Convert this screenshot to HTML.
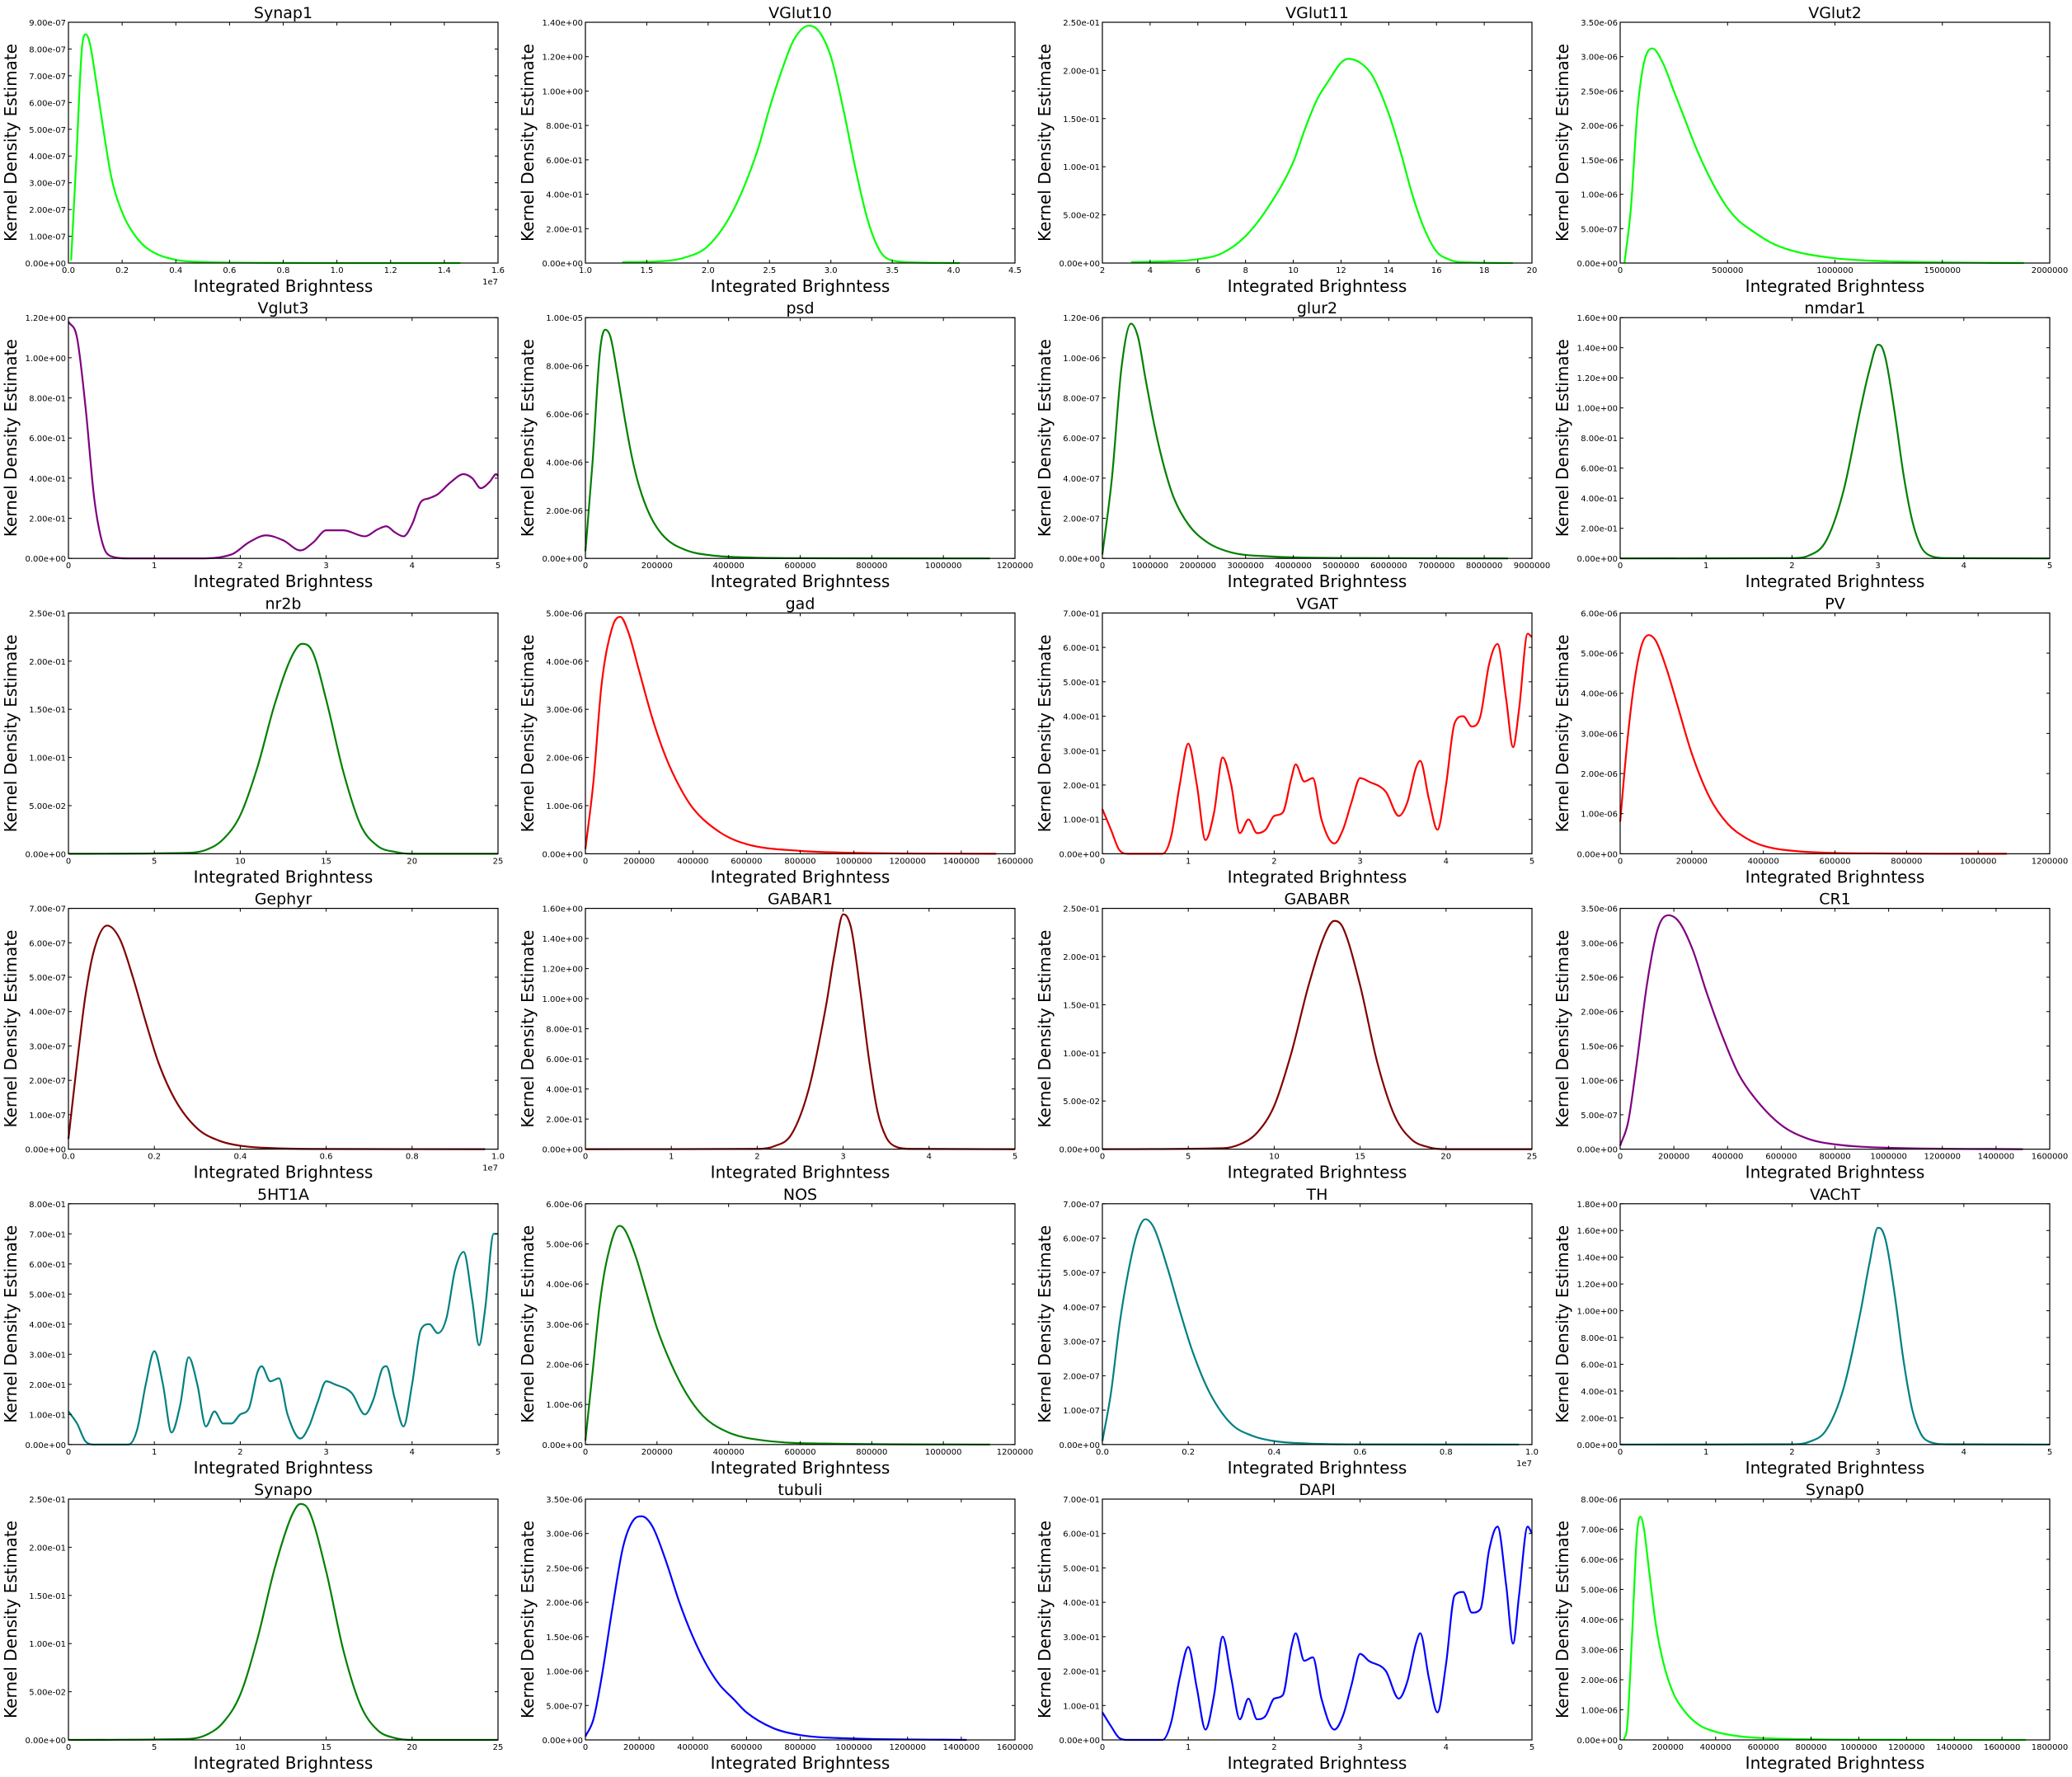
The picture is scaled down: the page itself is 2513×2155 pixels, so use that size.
<!DOCTYPE html>
<html><head><meta charset="utf-8"><style>
html,body{margin:0;padding:0;background:#fff}
svg{display:block;font-family:"DejaVu Sans","Liberation Sans",sans-serif}
</style></head><body>
<svg id="fig" width="2513" height="2155" viewBox="0 0 2513 2155" xmlns="http://www.w3.org/2000/svg"></svg>
<script>
// ---- data arrays ----
const synap1X=[0.01,0.03,0.05,0.065,0.08,0.1,0.13,0.16,0.2,0.25,0.3,0.4,0.5,0.7,1.0,1.46];
const synap1Y=[0.1,4,8,8.55,8.2,7,5,3.2,1.9,1.0,0.5,0.12,0.04,0.01,0,0];
const vglut10X=[1.3,1.6,1.8,2.0,2.2,2.4,2.5,2.6,2.7,2.82,2.9,3.0,3.1,3.2,3.3,3.4,3.5,3.7,4.05];
const vglut10Y=[0.005,0.01,0.03,0.1,0.3,0.65,0.9,1.12,1.3,1.38,1.35,1.2,0.9,0.55,0.25,0.07,0.015,0.003,0];
const vglut11X=[3.2,5,6,7,8,9,10,10.5,11,11.5,12,12.3,12.8,13.3,14,14.5,15,15.5,16,16.5,17,19.2];
const vglut11Y=[0.001,0.002,0.004,0.01,0.028,0.06,0.105,0.14,0.17,0.19,0.208,0.212,0.208,0.195,0.155,0.115,0.07,0.035,0.012,0.004,0.001,0];
const vglut2X=[20000,50000,80000,110000,150000,200000,250000,300000,350000,400000,450000,500000,550000,600000,700000,800000,1000000,1200000,1500000,1880000];
const vglut2Y=[0,0.8,2.2,2.9,3.12,2.9,2.5,2.1,1.7,1.35,1.05,0.8,0.62,0.5,0.3,0.18,0.07,0.03,0.01,0];
const vglut3X=[0,0.1,0.2,0.3,0.4,0.5,0.7,1.5,1.9,2.1,2.3,2.5,2.7,2.85,3.0,3.2,3.45,3.6,3.7,3.8,3.9,4.0,4.1,4.2,4.3,4.45,4.6,4.7,4.8,4.9,4.98,5.0];
const vglut3Y=[1.18,1.1,0.75,0.3,0.07,0.01,0,0,0.02,0.08,0.115,0.09,0.04,0.08,0.14,0.14,0.11,0.145,0.16,0.13,0.11,0.17,0.28,0.3,0.32,0.38,0.42,0.4,0.35,0.38,0.42,0.41];
const psdX=[0,20000,40000,55000,70000,90000,110000,130000,150000,180000,220000,280000,350000,450000,600000,1130000];
const psdY=[0.3,4,8.5,9.5,9.2,7.6,5.8,4.2,3.0,1.8,0.9,0.35,0.13,0.04,0.01,0];
const glur2X=[0,200000,400000,600000,750000,900000,1100000,1300000,1500000,1800000,2200000,2700000,3500000,5000000,8500000];
const glur2Y=[0.02,0.4,0.95,1.17,1.1,0.9,0.65,0.45,0.3,0.17,0.08,0.03,0.01,0.002,0];
const nmdar1X=[0,2.0,2.2,2.4,2.6,2.8,2.9,3.0,3.05,3.1,3.2,3.3,3.4,3.5,3.6,3.8,5];
const nmdar1Y=[0,0.002,0.02,0.12,0.45,1.0,1.25,1.42,1.4,1.3,0.95,0.55,0.25,0.08,0.02,0.002,0];
const nr2bX=[0,7,8,9,10,11,12,13,13.6,14.2,15,16,17,18,19,20,25];
const nr2bY=[0,0.001,0.004,0.015,0.04,0.09,0.155,0.205,0.218,0.21,0.16,0.085,0.03,0.008,0.002,0,0];
const gadX=[0,30000,60000,100000,130000,160000,200000,250000,300000,350000,400000,500000,600000,800000,1000000,1530000];
const gadY=[0.1,1.5,3.5,4.7,4.92,4.6,3.8,2.8,2.0,1.4,0.95,0.45,0.2,0.06,0.02,0];
const vgatX=[0,0.1,0.2,0.3,0.7,0.8,0.9,1.0,1.1,1.2,1.3,1.4,1.5,1.6,1.7,1.8,1.9,2.0,2.1,2.2,2.25,2.35,2.45,2.55,2.7,2.8,2.9,3.0,3.1,3.3,3.45,3.55,3.65,3.7,3.8,3.9,4.0,4.1,4.2,4.3,4.4,4.5,4.6,4.7,4.78,4.85,4.95,5.0];
const vgatY=[0.13,0.07,0.01,0,0,0.05,0.2,0.32,0.2,0.04,0.12,0.28,0.2,0.06,0.1,0.06,0.07,0.11,0.12,0.22,0.26,0.21,0.22,0.1,0.03,0.07,0.15,0.22,0.21,0.18,0.11,0.15,0.25,0.27,0.16,0.07,0.2,0.38,0.4,0.37,0.4,0.55,0.61,0.45,0.31,0.42,0.64,0.63];
const pvX=[0,20000,40000,60000,80000,100000,130000,160000,200000,250000,300000,350000,400000,500000,700000,1080000];
const pvY=[0.8,2.8,4.3,5.2,5.45,5.3,4.6,3.7,2.5,1.4,0.75,0.4,0.2,0.06,0.01,0];
const gephyrX=[0,0.02,0.04,0.06,0.09,0.12,0.15,0.18,0.21,0.25,0.3,0.35,0.4,0.5,0.6,0.97];
const gephyrY=[0.3,2.5,4.5,5.8,6.5,6.1,5.0,3.7,2.5,1.4,0.6,0.25,0.1,0.02,0.005,0];
const gabar1X=[0,2.0,2.2,2.4,2.6,2.8,2.9,3.0,3.05,3.1,3.2,3.3,3.4,3.5,3.6,3.8,5];
const gabar1Y=[0,0.002,0.02,0.1,0.4,0.95,1.3,1.56,1.54,1.45,1.05,0.6,0.25,0.08,0.02,0.002,0];
const gababrX=[0,7,8,9,10,11,12,13,13.5,14,15,16,17,18,19,20,25];
const gababrY=[0,0.001,0.005,0.017,0.045,0.1,0.17,0.225,0.237,0.23,0.17,0.09,0.035,0.01,0.002,0,0];
const cr1X=[0,30000,60000,100000,140000,180000,220000,270000,320000,380000,440000,500000,600000,700000,800000,1000000,1500000];
const cr1Y=[0.05,0.4,1.2,2.4,3.2,3.4,3.3,2.9,2.3,1.65,1.1,0.75,0.35,0.15,0.07,0.02,0];
const ht1aX=[0,0.1,0.2,0.3,0.7,0.8,0.9,1.0,1.1,1.2,1.3,1.4,1.5,1.6,1.7,1.8,1.9,2.0,2.1,2.2,2.25,2.35,2.45,2.55,2.7,2.8,2.9,3.0,3.1,3.3,3.45,3.55,3.65,3.7,3.8,3.9,4.0,4.1,4.2,4.3,4.4,4.5,4.6,4.7,4.78,4.85,4.95,5.0];
const ht1aY=[0.11,0.07,0.01,0,0,0.05,0.2,0.31,0.2,0.04,0.13,0.29,0.2,0.06,0.11,0.07,0.07,0.1,0.12,0.24,0.26,0.21,0.22,0.1,0.02,0.06,0.14,0.21,0.2,0.17,0.1,0.15,0.25,0.26,0.15,0.06,0.2,0.38,0.4,0.37,0.42,0.58,0.64,0.48,0.33,0.45,0.7,0.7];
const nosX=[0,20000,40000,60000,95000,110000,140000,170000,200000,240000,280000,330000,400000,500000,700000,1130000];
const nosY=[0.1,1.8,3.5,4.6,5.45,5.35,4.7,3.8,2.9,2.0,1.3,0.7,0.3,0.1,0.02,0];
const thX=[0,0.02,0.04,0.06,0.08,0.1,0.12,0.15,0.18,0.21,0.25,0.3,0.35,0.4,0.5,0.6,0.97];
const thY=[0.1,1.5,3.5,5.0,6.1,6.55,6.3,5.2,3.9,2.7,1.5,0.6,0.25,0.1,0.02,0.005,0];
const vachtX=[0,2.0,2.2,2.4,2.6,2.8,2.9,3.0,3.05,3.1,3.2,3.3,3.4,3.5,3.6,3.8,5];
const vachtY=[0,0.002,0.02,0.11,0.42,1.0,1.35,1.62,1.6,1.5,1.1,0.62,0.26,0.08,0.02,0.002,0];
const synapoX=[0,7,8,9,10,11,12,13,13.5,14,15,16,17,18,19,20,25];
const synapoY=[0,0.001,0.005,0.018,0.047,0.105,0.178,0.233,0.245,0.238,0.175,0.093,0.036,0.01,0.002,0,0];
const tubuliX=[0,30000,60000,100000,140000,180000,210000,250000,300000,350000,400000,450000,500000,550000,600000,700000,800000,1000000,1420000];
const tubuliY=[0.05,0.3,0.9,1.9,2.8,3.2,3.25,3.1,2.6,2.0,1.5,1.1,0.8,0.6,0.4,0.17,0.07,0.02,0];
const dapiX=[0,0.1,0.2,0.3,0.7,0.8,0.9,1.0,1.1,1.2,1.3,1.4,1.5,1.6,1.7,1.8,1.9,2.0,2.1,2.2,2.25,2.35,2.45,2.55,2.7,2.8,2.9,3.0,3.1,3.3,3.45,3.55,3.65,3.7,3.8,3.9,4.0,4.1,4.2,4.3,4.4,4.5,4.6,4.7,4.78,4.85,4.95,5.0];
const dapiY=[0.08,0.04,0.005,0,0,0.05,0.18,0.27,0.15,0.03,0.13,0.3,0.18,0.06,0.12,0.06,0.07,0.12,0.13,0.27,0.31,0.23,0.24,0.12,0.03,0.07,0.16,0.25,0.23,0.2,0.12,0.17,0.28,0.31,0.18,0.08,0.22,0.42,0.43,0.37,0.38,0.55,0.62,0.45,0.28,0.42,0.62,0.6];
const synap0X=[15000,30000,50000,70000,85000,100000,120000,150000,180000,220000,270000,330000,400000,500000,600000,800000,1000000,1700000];
const synap0Y=[0,0.5,3.5,6.8,7.42,7.0,5.7,3.8,2.6,1.6,0.95,0.5,0.27,0.12,0.06,0.02,0.008,0];

const titles=["Synap1","VGlut10","VGlut11","VGlut2","Vglut3","psd","glur2","nmdar1","nr2b","gad","VGAT","PV","Gephyr","GABAR1","GABABR","CR1","5HT1A","NOS","TH","VAChT","Synapo","tubuli","DAPI","Synap0"];
const L=1e-7,M=1e-6;
const plots=[
 [synap1X,synap1Y,L,"#00ff00",0,1.6,0.2,1,true,9e-7,1e-7],
 [vglut10X,vglut10Y,1,"#00ff00",1,4.5,0.5,1,false,1.4,0.2],
 [vglut11X,vglut11Y,1,"#00ff00",2,20,2,0,false,0.25,0.05],
 [vglut2X,vglut2Y,M,"#00ff00",0,2000000,500000,0,false,3.5e-6,5e-7],
 [vglut3X,vglut3Y,1,"#800080",0,5,1,0,false,1.2,0.2],
 [psdX,psdY,M,"#008000",0,1200000,200000,0,false,1e-5,2e-6],
 [glur2X,glur2Y,M,"#008000",0,9000000,1000000,0,false,1.2e-6,2e-7],
 [nmdar1X,nmdar1Y,1,"#008000",0,5,1,0,false,1.6,0.2],
 [nr2bX,nr2bY,1,"#008000",0,25,5,0,false,0.25,0.05],
 [gadX,gadY,M,"#ff0000",0,1600000,200000,0,false,5e-6,1e-6],
 [vgatX,vgatY,1,"#ff0000",0,5,1,0,false,0.7,0.1],
 [pvX,pvY,M,"#ff0000",0,1200000,200000,0,false,6e-6,1e-6],
 [gephyrX,gephyrY,L,"#800000",0,1.0,0.2,1,true,7e-7,1e-7],
 [gabar1X,gabar1Y,1,"#800000",0,5,1,0,false,1.6,0.2],
 [gababrX,gababrY,1,"#800000",0,25,5,0,false,0.25,0.05],
 [cr1X,cr1Y,M,"#800080",0,1600000,200000,0,false,3.5e-6,5e-7],
 [ht1aX,ht1aY,1,"#008080",0,5,1,0,false,0.8,0.1],
 [nosX,nosY,M,"#008000",0,1200000,200000,0,false,6e-6,1e-6],
 [thX,thY,L,"#008080",0,1.0,0.2,1,true,7e-7,1e-7],
 [vachtX,vachtY,1,"#008080",0,5,1,0,false,1.8,0.2],
 [synapoX,synapoY,1,"#008000",0,25,5,0,false,0.25,0.05],
 [tubuliX,tubuliY,M,"#0000ff",0,1600000,200000,0,false,3.5e-6,5e-7],
 [dapiX,dapiY,1,"#0000ff",0,5,1,0,false,0.7,0.1],
 [synap0X,synap0Y,M,"#00ff00",0,1800000,200000,0,false,8e-6,1e-6]
];

const NS="http://www.w3.org/2000/svg";
const fig=document.getElementById('fig');
function mk(tag,attrs,parent,text){const e=document.createElementNS(NS,tag);for(const k in attrs)e.setAttribute(k,attrs[k]);if(text!==undefined)e.textContent=text;parent.appendChild(e);return e;}
function fmtE(v){if(Math.abs(v)<1e-15)return "0.00e+00";let s=v.toExponential(2);let [m,e]=s.split('e');let sign=e[0]==='-'?'-':'+';let d=e.replace(/^[+-]/,'');if(d.length<2)d='0'+d;return m+'e'+sign+d;}
function monotonePath(px,py){
 const n=px.length;if(n<2)return "";
 const d=[],m=new Array(n);
 for(let i=0;i<n-1;i++)d.push((py[i+1]-py[i])/(px[i+1]-px[i]));
 m[0]=d[0];m[n-1]=d[n-2];
 for(let i=1;i<n-1;i++){m[i]=(d[i-1]*d[i]<=0)?0:(d[i-1]+d[i])/2;}
 for(let i=0;i<n-1;i++){if(d[i]===0){m[i]=0;m[i+1]=0;continue;}const a=m[i]/d[i],b=m[i+1]/d[i],s=a*a+b*b;if(s>9){const t=3/Math.sqrt(s);m[i]=t*a*d[i];m[i+1]=t*b*d[i];}}
 let p="M"+px[0].toFixed(2)+","+py[0].toFixed(2);
 for(let i=0;i<n-1;i++){const h=(px[i+1]-px[i])/3;p+=" C"+(px[i]+h).toFixed(2)+","+(py[i]+m[i]*h).toFixed(2)+" "+(px[i+1]-h).toFixed(2)+","+(py[i+1]-m[i+1]*h).toFixed(2)+" "+px[i+1].toFixed(2)+","+py[i+1].toFixed(2);}
 return p;
}
const colL=[83,710,1337,1965],W=521,H=292,top0=27,rowStep=358.2;
plots.forEach((p,idx)=>{
 const [xs,ys,ymul,color,xmin,xmax,xstep,xdec,off,ymax,ystep]=p;
 const r=Math.floor(idx/4),c=idx%4;
 const x0=colL[c],y0=top0+r*rowStep,y1=y0+H;
 const xScale=v=>x0+(v-xmin)/(xmax-xmin)*W;
 const yScale=v=>y1-v/ymax*H;
 const g=mk('g',{},fig);
 
 
 const t=mk('text',{x:x0+W/2,y:y0-5,'text-anchor':'middle','font-size':19},g,titles[idx]);
 
 
 const px=xs.map(xScale),py=ys.map(v=>yScale(v*ymul));
 const path=mk('path',{d:monotonePath(px,py),fill:'none',stroke:color,'stroke-width':2.2,'stroke-linejoin':'round'},g);
 
 
 const fr=mk('rect',{x:x0,y:y0,width:W,height:H,fill:'none',stroke:'#000','stroke-width':1.2},g);
 
 
 const nx=Math.round((xmax-xmin)/xstep);
 for(let i=0;i<=nx;i++){const v=xmin+i*xstep,X=xScale(v);
  mk('line',{x1:X,y1:y1,x2:X,y2:y1-4,stroke:'#000','stroke-width':1},g);
  mk('line',{x1:X,y1:y0,x2:X,y2:y0+4,stroke:'#000','stroke-width':1},g);
  const tl=mk('text',{x:X,y:y1+12,'text-anchor':'middle','font-size':10},g,v.toFixed(xdec));
  
  
 }
 if(off){const o=mk('text',{x:x0+W,y:y1+26,'text-anchor':'end','font-size':10},g,'1e7');
  
  }
 const ny=Math.round(ymax/ystep);
 for(let i=0;i<=ny;i++){const v=i*ystep,Y=yScale(v);
  mk('line',{x1:x0,y1:Y,x2:x0+4,y2:Y,stroke:'#000','stroke-width':1},g);
  mk('line',{x1:x0+W,y1:Y,x2:x0+W-4,y2:Y,stroke:'#000','stroke-width':1},g);
  const tl=mk('text',{x:x0-3,y:Y+4,'text-anchor':'end','font-size':10},g,fmtE(v));
  
  
 }
 const xl=mk('text',{x:x0+W/2,y:y1+35,'text-anchor':'middle','font-size':20},g,'Integrated Brighntess');
 
 
 const yc=y0+H/2,yx=x0-63;
 const yl=mk('text',{x:yx,y:yc,'text-anchor':'middle','font-size':20,transform:'rotate(-90 '+yx+' '+yc+')'},g,'Kernel Density Estimate');
 
 
});
</script>
</body></html>
